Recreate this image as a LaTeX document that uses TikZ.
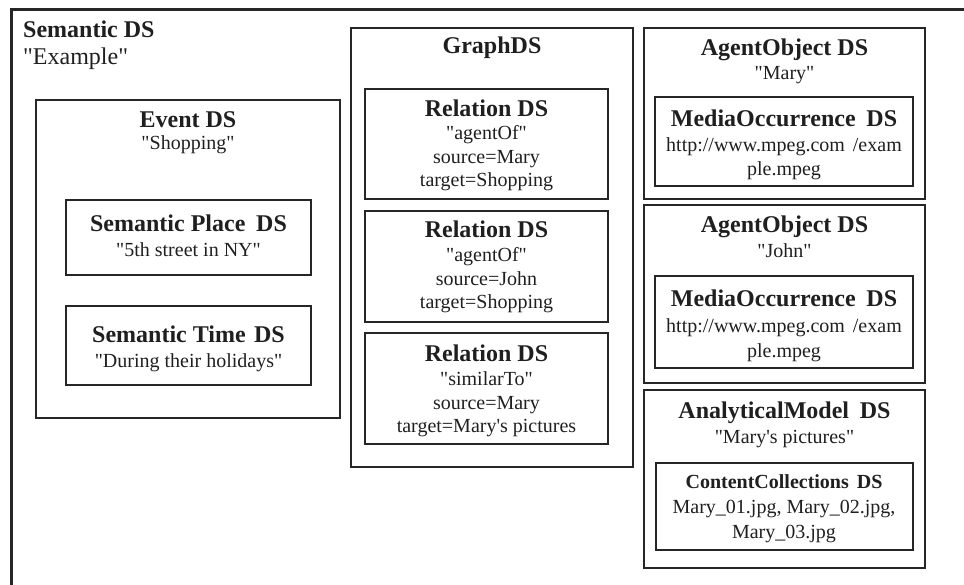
\documentclass[tikz,border=0pt]{standalone}
\usepackage{fontspec}
\setmainfont{Liberation Serif}[Ligatures=TeXOff]
\usetikzlibrary{fit}
\begin{document}
\begin{tikzpicture}[x=1pt,y=-1pt,
  frame/.style={draw=black!85,line width=2.6pt,inner sep=0pt},
  ttl/.style={anchor=base,font=\fontsize{24}{24}\selectfont\bfseries,text=black!88,inner sep=0pt},
  sttl/.style={anchor=base,font=\fontsize{20}{24}\selectfont\bfseries,text=black!88,inner sep=0pt},
  txt/.style={anchor=base,font=\fontsize{20}{24}\selectfont,text=black!88,inner sep=0pt}
]
\useasboundingbox (0,0) rectangle (964,585);
% outer frame (open on right and bottom)
\coordinate (oBL) at (11,585);
\coordinate (oTL) at (11,10);
\coordinate (oTR) at (964,10);
\draw[draw=black!85,line width=3pt] (oBL) -- (oTL) -- (oTR);
\node[ttl,anchor=base west] (semT) at (23,38) {Semantic DS};
\node[txt,anchor=base west,font=\fontsize{24}{24}\selectfont] (semS) at (23,65) {"Example"};

% Event DS
\node[frame,fit={(36,100) (340,418)}] (event) {};
\node[ttl] (eventT) at (188,128) {Event DS};
\node[txt] (eventS) at (188,150) {"Shopping"};
\node[frame,fit={(66,200) (311,275)}] (place) {};
\node[ttl] (placeT) at (188.5,232) {Semantic Place\hspace{0.45em}DS};
\node[txt] (placeS) at (188.5,257) {"5th street in NY"};
\node[frame,fit={(66,306) (311,385)}] (time) {};
\node[ttl] (timeT) at (188.5,343) {Semantic Time\hspace{0.35em}DS};
\node[txt] (timeS) at (188.5,367) {"During their holidays"};

% GraphDS
\node[frame,fit={(351,28) (633,467)}] (graph) {};
\node[ttl] (graphT) at (492,54) {GraphDS};
\node[frame,fit={(365,89) (608,199)}] (rel1) {};
\node[ttl] (rel1T) at (486.5,117) {Relation DS};
\node[txt] (rel1a) at (486.5,140) {"agentOf"};
\node[txt] (rel1b) at (486.5,164) {source=Mary};
\node[txt] (rel1c) at (486.5,187) {target=Shopping};
\node[frame,fit={(365,211) (608,322)}] (rel2) {};
\node[ttl] (rel2T) at (486.5,238) {Relation DS};
\node[txt] (rel2a) at (486.5,262) {"agentOf"};
\node[txt] (rel2b) at (486.5,286) {source=John};
\node[txt] (rel2c) at (486.5,309) {target=Shopping};
\node[frame,fit={(365,333) (608,444)}] (rel3) {};
\node[ttl] (rel3T) at (486.5,362) {Relation DS};
\node[txt] (rel3a) at (486.5,385) {"similarTo"};
\node[txt] (rel3b) at (486.5,409) {source=Mary};
\node[txt] (rel3c) at (486.5,432) {target=Mary's pictures};

% AgentObject Mary
\node[frame,fit={(644,28) (925,199)}] (agm) {};
\node[ttl] (agmT) at (784.5,56) {AgentObject DS};
\node[txt] (agmS) at (784.5,80) {"Mary"};
\node[frame,fit={(655,97) (913,186)}] (mom) {};
\node[ttl] (momT) at (784,127) {MediaOccurrence\hspace{0.45em}DS};
\node[txt] (momA) at (784,152) {http://www.mpeg.com\hspace{0.4em}/exam};
\node[txt] (momB) at (784,176) {ple.mpeg};

% AgentObject John
\node[frame,fit={(644,205) (925,383)}] (agj) {};
\node[ttl] (agjT) at (784.5,233) {AgentObject DS};
\node[txt] (agjS) at (784.5,258) {"John"};
\node[frame,fit={(655,276) (913,368)}] (moj) {};
\node[ttl] (mojT) at (784,307) {MediaOccurrence\hspace{0.45em}DS};
\node[txt] (mojA) at (784,333) {http://www.mpeg.com\hspace{0.4em}/exam};
\node[txt] (mojB) at (784,357) {ple.mpeg};

% AnalyticalModel
\node[frame,fit={(644,390) (925,568)}] (anm) {};
\node[ttl] (anmT) at (784.5,418) {AnalyticalModel\hspace{0.45em}DS};
\node[txt] (anmS) at (784.5,443) {"Mary's pictures"};
\node[frame,fit={(656,463) (913,550)}] (cc) {};
\node[sttl] (ccT) at (784,488) {ContentCollections\hspace{0.4em}DS};
\node[txt] (ccA) at (784,513) {Mary\_01.jpg, Mary\_02.jpg,};
\node[txt] (ccB) at (784,538) {Mary\_03.jpg};
\end{tikzpicture}
\end{document}
